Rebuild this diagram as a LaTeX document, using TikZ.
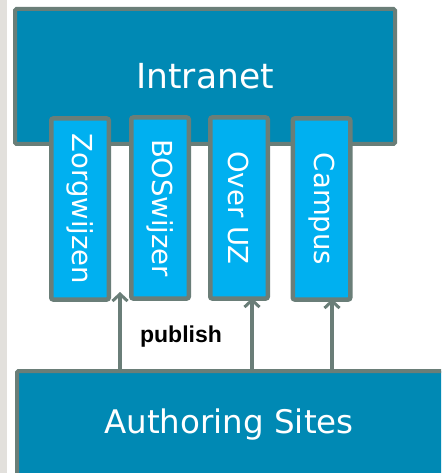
\documentclass[tikz,border=0pt]{standalone}
\usepackage{fontspec}
\setmainfont{DejaVu Sans}
\newfontfamily\pubfont{Liberation Sans}
\usetikzlibrary{arrows.meta}
\definecolor{darkblue}{RGB}{0,137,180}
\definecolor{lightblue}{RGB}{0,176,240}
\definecolor{edgegray}{RGB}{106,126,120}
\definecolor{stripgray}{RGB}{226,224,220}
\begin{document}
\begin{tikzpicture}[x=1pt,y=-1pt,
  bigbox/.style={draw=edgegray,line width=4pt,fill=darkblue,rounded corners=1.5pt,inner sep=0pt},
  sitebox/.style={draw=edgegray,line width=4.5pt,fill=lightblue,rounded corners=2pt,
    minimum width=57.5pt,minimum height=181pt,inner sep=0pt},
  sitetext/.style={text=white,font=\fontsize{27.5}{30}\selectfont,rotate=-90},
  arr/.style={draw=edgegray,line width=3.5pt,-{Straight Barb[length=7pt,width=15pt,line width=3pt]}}]
\clip (0,0) rectangle (441,473);
\fill[white] (0,0) rectangle (441,473);
\fill[stripgray] (0,0) rectangle (6.5,473);
% Intranet
\node[bigbox,minimum width=380pt,minimum height=135pt,text=white,
  font=\fontsize{34.5}{38}\selectfont] (intra) at (205,76.5) {Intranet};
% sites
\node[sitebox] (zorg) at (80,209) {};
\node[sitetext] at (zorg.center) {Zorgwijzen};
\node[sitebox] (bos) at (160,208) {};
\node[sitetext] at (bos.center) {BOSwijzer};
\node[sitebox] (over) at (239,208) {};
\node[sitetext] at (over.center) {Over UZ};
\node[sitebox] (campus) at (321.5,209) {};
\node[sitetext] at (campus.center) {Campus};
% Authoring
\node[bigbox,anchor=north west,minimum width=480pt,minimum height=160pt] (auth) at (15,369) {};
\node[text=white,font=\fontsize{32.5}{36}\selectfont] (authtext) at (229,425) {Authoring Sites};
% arrows
\coordinate (a1) at (120,292);
\coordinate (a2) at (252,298);
\coordinate (a3) at (332,299);
\draw[arr] (auth.north -| a1) -- (a1);
\draw[arr] (auth.north -| a2) -- (a2);
\draw[arr] (auth.north -| a3) -- (a3);
\node[font=\pubfont\bfseries\fontsize{23}{26}\selectfont] (pub) at (181,337) {publish};
\end{tikzpicture}
\end{document}
